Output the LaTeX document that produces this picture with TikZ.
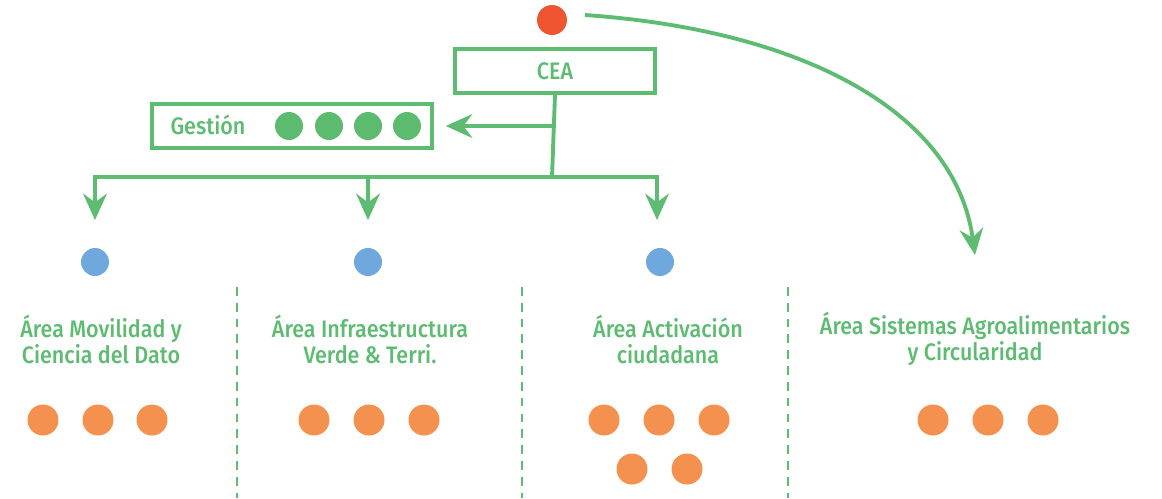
\documentclass[tikz,border=0pt]{standalone}
\usepackage{fontspec}
\setmainfont{Fira Sans}[UprightFont=* Medium, FakeStretch=0.9]
\usetikzlibrary{arrows.meta}
\definecolor{gr}{HTML}{5DBB72}
\definecolor{dgr}{HTML}{5DBB6F}
\definecolor{org}{HTML}{F4914F}
\definecolor{rd}{HTML}{EE5530}
\definecolor{bl}{HTML}{6FA8DC}
\tikzset{
  ln/.style={draw=gr, line width=2.2pt},
  arr/.style={ln, -{Stealth[length=15pt,width=13.5pt,inset=5pt]}},
  dot/.style={circle, minimum size=0.56cm, inner sep=0pt, fill=#1},
  od/.style={circle, minimum width=0.58cm, minimum height=0.62cm, inner sep=0pt, fill=org},
  boxx/.style={draw=gr, line width=1.8pt, minimum height=0.88cm, inner sep=0pt},
  lbl/.style={text=gr, align=center, font=\fontsize{13.6pt}{14.8pt}\selectfont},
  sep/.style={draw=gr, line width=1.3pt, dash pattern=on 5pt off 4pt}
}
\begin{document}
\begin{tikzpicture}[x=0.02cm, y=-0.02cm]
\useasboundingbox (0,0) rectangle (1162,498);
% top
\node[dot=rd, minimum size=0.6cm] (red) at (552,20) {};
\node[boxx, minimum width=4cm, text=gr, font=\fontsize{13.6pt}{14pt}\selectfont] (cea) at (555,71) {CEA};
\node[boxx, minimum width=5.6cm] (ges) at (292,126) {};
\node[text=gr, font=\fontsize{13.6pt}{14pt}\selectfont] (gt) at (208,125) {Gestión};
\node[dot=dgr] (g1) at (289,126) {};
\node[dot=dgr] (g2) at (329,126) {};
\node[dot=dgr] (g3) at (368,126) {};
\node[dot=dgr] (g4) at (407,126) {};
% connectors
\coordinate (j1) at (552,126);
\coordinate (hub) at (552,177);
\coordinate (a1) at (95,220);
\coordinate (a2) at (368,220);
\coordinate (a3) at (657,220);
\draw[ln] (cea.south) -- (hub);
\draw[arr, shorten >=7pt] (j1) -- (ges.east);
\draw[arr] (hub) -| (a1);
\draw[arr] (hub) -| (a2);
\draw[arr] (hub) -| (a3);
\coordinate (cs) at (585,15);
\coordinate (ce) at (975,255);
\draw[arr] (cs) .. controls (800,30) and (955,110) .. (ce);
% blue dots
\node[dot=bl] (b1) at (95,262) {};
\node[dot=bl] (b2) at (368,262) {};
\node[dot=bl] (b3) at (660,262) {};
% separators
\coordinate (s1t) at (237,287); \coordinate (s1b) at (237,498);
\coordinate (s2t) at (522,287); \coordinate (s2b) at (522,498);
\coordinate (s3t) at (788,287); \coordinate (s3b) at (788,498);
\draw[sep] (s1t) -- (s1b);
\draw[sep] (s2t) -- (s2b);
\draw[sep] (s3t) -- (s3b);
% labels
\node[lbl] (l1) at (101,339) {Área Movilidad y\\Ciencia del Dato};
\node[lbl] (l2) at (370,339) {Área Infraestructura\\Verde \& Terri.};
\node[lbl] (l3) at (668,339) {Área Activación\\ciudadana};
\node[lbl] (l4) at (975,339) {Área Sistemas Agroalimentarios\\y Circularidad};
% orange dots
\node[od] (o11) at (43,420) {};
\node[od] (o12) at (98,420) {};
\node[od] (o13) at (152,420) {};
\node[od] (o21) at (314,420) {};
\node[od] (o22) at (369,420) {};
\node[od] (o23) at (424,420) {};
\node[od] (o31) at (604,420) {};
\node[od] (o32) at (659,420) {};
\node[od] (o33) at (714,420) {};
\node[od] (o34) at (632,469) {};
\node[od] (o35) at (687,469) {};
\node[od] (o41) at (933,420) {};
\node[od] (o42) at (988,420) {};
\node[od] (o43) at (1043,420) {};
\end{tikzpicture}
\end{document}
